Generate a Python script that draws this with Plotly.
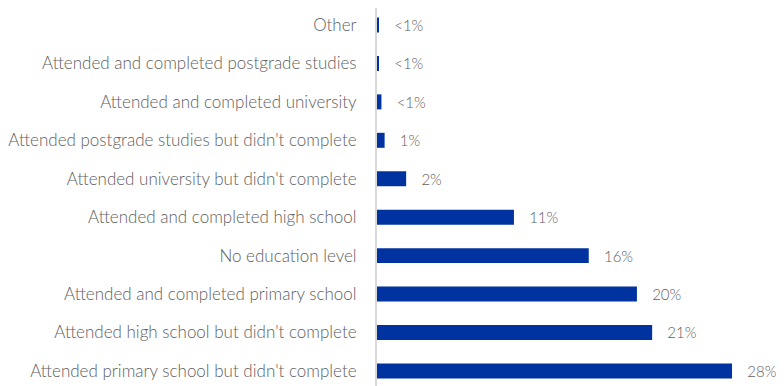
import plotly.graph_objects as go

# top to bottom, as shown
categories = [
    "Other",
    "Attended and completed postgrade studies",
    "Attended and completed university",
    "Attended postgrade studies but didn't complete",
    "Attended university but didn't complete",
    "Attended and completed high school",
    "No education level",
    "Attended and completed primary school",
    "Attended high school but didn't complete",
    "Attended primary school but didn't complete",
]
values = [0.08, 0.12, 0.35, 0.6, 2.3, 10.8, 16.7, 20.5, 21.7, 28.0]
value_labels = ["<1%", "<1%", "<1%", "1%", "2%", "11%", "16%", "20%", "21%", "28%"]

BLUE = "#0033a0"
GREY = "#606060"
FONT = "Lato, 'Open Sans', sans-serif"

fig = go.Figure(
    go.Bar(
        x=values,
        y=categories,
        orientation="h",
        marker={"color": BLUE, "line": {"width": 0}},
        text=["\u00a0\u00a0\u00a0" + t for t in value_labels],
        textposition="outside",
        constraintext="none",
        textfont={"family": FONT, "size": 15, "color": GREY, "weight": 300},
        cliponaxis=False,
        hoverinfo="skip",
    )
)

fig.update_layout(
    width=784,
    height=386,
    margin={"l": 365, "r": 0, "t": 0, "b": 0},
    paper_bgcolor="white",
    plot_bgcolor="white",
    bargap=0.61,
    showlegend=False,
    font={"family": FONT, "color": GREY},
    xaxis={
        "range": [0, 32.73],
        "visible": False,
        "showgrid": False,
        "zeroline": False,
    },
    yaxis={
        "categoryorder": "array",
        "categoryarray": categories,
        "range": [9.6, -0.442],
        "showgrid": False,
        "zeroline": False,
        "showline": True,
        "linecolor": "#d9d9d9",
        "linewidth": 2,
        "ticks": "",
        "ticklabelstandoff": 15,
        "tickfont": {"family": FONT, "size": 17, "color": GREY, "weight": 300},
    },
)

fig.write_html("out.html")
